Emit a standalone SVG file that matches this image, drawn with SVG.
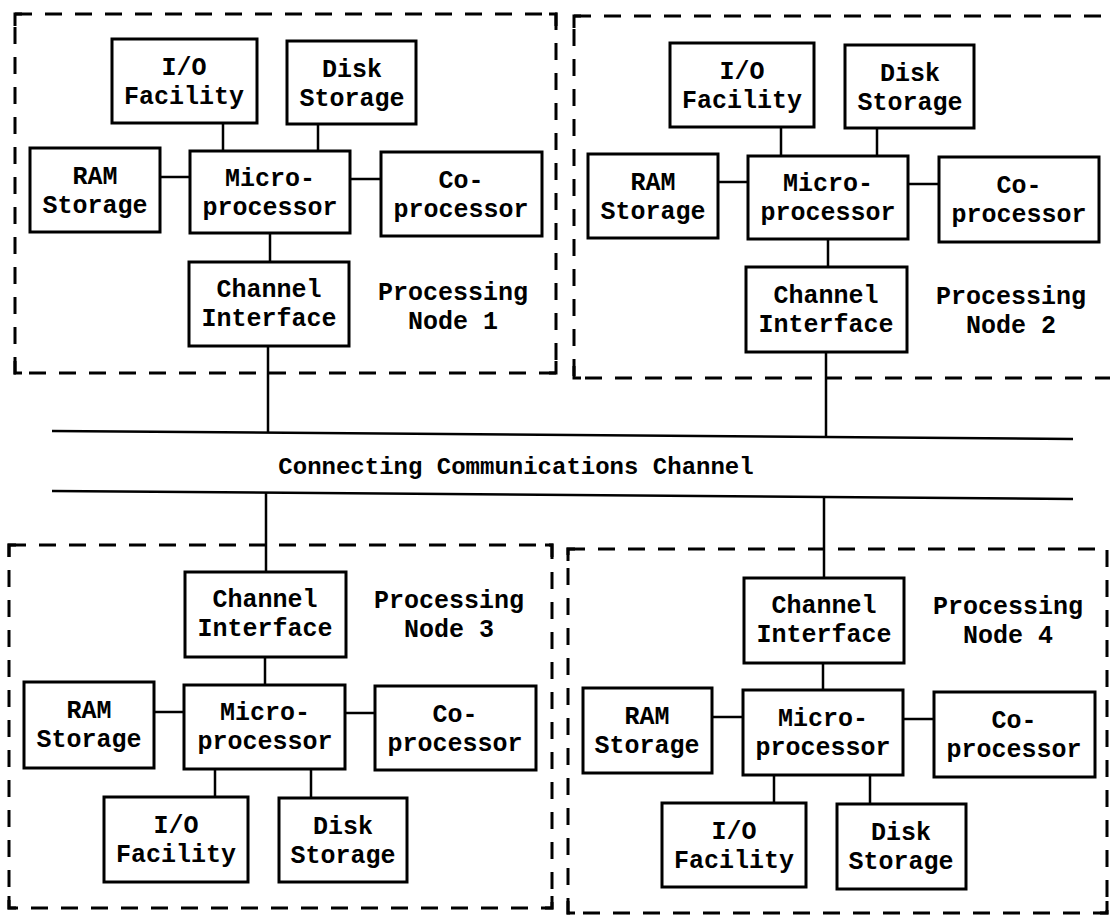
<svg xmlns="http://www.w3.org/2000/svg" width="1110" height="918" viewBox="0 0 1110 918">
<style>
.bx{fill:#fff;stroke:#000;stroke-width:3}
.ln{stroke:#000;stroke-width:2.5;fill:none}
.ds{stroke:#000;stroke-width:3;fill:none;stroke-dasharray:17 13}
.cn{stroke:#000;stroke-width:3;fill:none}
text{font-family:"Liberation Mono","Courier New",monospace;font-weight:bold;font-size:25px;fill:#000;text-anchor:middle}
.bus{font-size:24px}
</style>
<rect width="1110" height="918" fill="#fff"/>
<g id="connectors">
<path class="ln" d="M223,123V151 M318,124V151 M160,177H190 M350,179H381 M270,233V262 M268,346V432"/>
<path class="ln" d="M781,127V156 M877,128V156 M718,182H748 M908,184H939 M828,239V267 M826,352V438"/>
<path class="ln" d="M52,431L1073,439 M52,491L1073,499"/>
<path class="ln" d="M266,492V572 M265,657V685 M154,712H184 M345,713H375 M215,769V797 M311,769V798"/>
<path class="ln" d="M824,498V578 M823,663V690 M712,717H743 M903,719H934 M774,775V803 M870,775V804"/>
</g>
<g id="bus-label"><text class="bus" x="516" y="474">Connecting Communications Channel</text></g>
<g id="node1">
<path class="ds" d="M15,14H556V373H15Z"/>
<path class="cn" d="M15,26V14H22 M549,14H556V26 M556,361V373H549 M22,373H15V361"/>
<rect class="bx" x="112" y="39" width="145" height="84"/><text x="184" y="75">I/O</text><text x="184" y="104">Facility</text>
<rect class="bx" x="287" y="41" width="129" height="83"/><text x="352" y="77">Disk</text><text x="352" y="106">Storage</text>
<rect class="bx" x="30" y="148" width="130" height="84"/><text x="95" y="184">RAM</text><text x="95" y="213">Storage</text>
<rect class="bx" x="190" y="151" width="160" height="82"/><text x="270" y="186">Micro-</text><text x="270" y="215">processor</text>
<rect class="bx" x="381" y="152" width="161" height="84"/><text x="461" y="188">Co-</text><text x="461" y="217">processor</text>
<rect class="bx" x="189" y="262" width="160" height="84"/><text x="269" y="297">Channel</text><text x="269" y="326">Interface</text>
<text x="453" y="300">Processing</text><text x="453" y="329">Node 1</text>
</g>
<g id="node2">
<path class="ds" d="M574,16H1112V378H574Z"/>
<path class="cn" d="M574,28V16H581 M581,378H574V366"/>
<rect class="bx" x="670" y="43" width="144" height="84"/><text x="742" y="79">I/O</text><text x="742" y="108">Facility</text>
<rect class="bx" x="845" y="45" width="129" height="83"/><text x="910" y="81">Disk</text><text x="910" y="110">Storage</text>
<rect class="bx" x="588" y="154" width="130" height="84"/><text x="653" y="190">RAM</text><text x="653" y="219">Storage</text>
<rect class="bx" x="748" y="156" width="160" height="83"/><text x="828" y="191">Micro-</text><text x="828" y="220">processor</text>
<rect class="bx" x="939" y="157" width="160" height="85"/><text x="1019" y="193">Co-</text><text x="1019" y="222">processor</text>
<rect class="bx" x="746" y="267" width="161" height="85"/><text x="826" y="303">Channel</text><text x="826" y="332">Interface</text>
<text x="1011" y="304">Processing</text><text x="1011" y="333">Node 2</text>
</g>
<g id="node3">
<path class="ds" d="M9,545H552V908H9Z"/>
<path class="cn" d="M9,557V545H16 M545,545H552V557 M552,896V908H545 M16,908H9V896"/>
<rect class="bx" x="185" y="572" width="161" height="85"/><text x="265" y="607">Channel</text><text x="265" y="636">Interface</text>
<text x="449" y="608">Processing</text><text x="449" y="637">Node 3</text>
<rect class="bx" x="24" y="682" width="130" height="86"/><text x="89" y="718">RAM</text><text x="89" y="747">Storage</text>
<rect class="bx" x="184" y="685" width="161" height="84"/><text x="265" y="720">Micro-</text><text x="265" y="749">processor</text>
<rect class="bx" x="375" y="686" width="161" height="84"/><text x="455" y="722">Co-</text><text x="455" y="751">processor</text>
<rect class="bx" x="104" y="797" width="144" height="85"/><text x="176" y="833">I/O</text><text x="176" y="862">Facility</text>
<rect class="bx" x="279" y="798" width="128" height="84"/><text x="343" y="834">Disk</text><text x="343" y="863">Storage</text>
</g>
<g id="node4">
<path class="ds" d="M568,549H1107V913H568Z"/>
<path class="cn" d="M568,561V549H575 M1107,901V913H1100 M575,913H568V901"/>
<rect class="bx" x="744" y="578" width="160" height="85"/><text x="824" y="613">Channel</text><text x="824" y="642">Interface</text>
<text x="1008" y="614">Processing</text><text x="1008" y="643">Node 4</text>
<rect class="bx" x="583" y="688" width="129" height="85"/><text x="647" y="724">RAM</text><text x="647" y="753">Storage</text>
<rect class="bx" x="743" y="690" width="160" height="85"/><text x="823" y="726">Micro-</text><text x="823" y="755">processor</text>
<rect class="bx" x="934" y="692" width="161" height="85"/><text x="1014" y="728">Co-</text><text x="1014" y="757">processor</text>
<rect class="bx" x="662" y="803" width="144" height="84"/><text x="734" y="839">I/O</text><text x="734" y="868">Facility</text>
<rect class="bx" x="837" y="804" width="129" height="85"/><text x="901" y="840">Disk</text><text x="901" y="869">Storage</text>
</g>
</svg>
